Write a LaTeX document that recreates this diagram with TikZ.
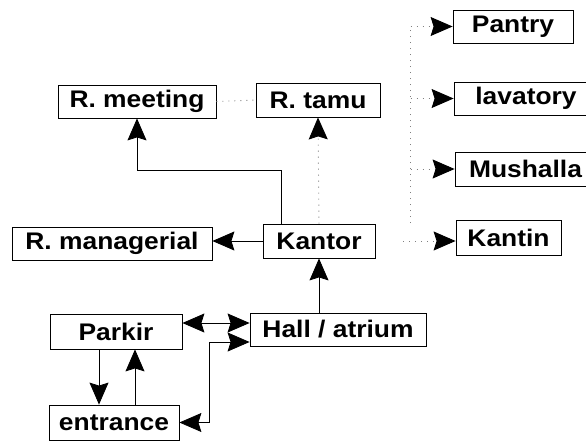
\documentclass[tikz,border=0pt]{standalone}
\usepackage{fontspec}
\setmainfont{Liberation Sans}[FakeStretch=1.1]
\usetikzlibrary{arrows.meta,calc}

\tikzset{
  room/.style={draw, line width=0.8pt, inner sep=0pt, anchor=center,
    font=\fontsize{24}{24}\selectfont\bfseries},
  head/.tip={Stealth[length=22pt,width=19pt,inset=3pt]},
  solidlink/.style={line width=0.8pt, -head},
  solidtwo/.style={line width=0.8pt, head-head},
  faint/.style={line width=0.9pt, gray, dash pattern=on 1pt off 5pt},
  faintarrow/.style={faint, -{Stealth[length=22pt,width=19pt,inset=3pt,black]}},
}

\begin{document}
\begin{tikzpicture}[x=1pt, y=-1pt]
\useasboundingbox (0,0) rectangle (586,442);
\clip (0,0) rectangle (586,442);

% rooms
\node[room, minimum width=158pt, minimum height=33pt] (meet)     at (137,101.5) {R. meeting};
\node[room, minimum width=124pt, minimum height=34pt] (tamu)     at (318,100)   {R. tamu};
\node[room, minimum width=120pt, minimum height=33pt] (pantry)   at (513,26.5)  {Pantry};
\node[room, minimum width=136pt, minimum height=33pt] (lav)      at (522,98.5)  {\hspace*{8pt}lavatory};
\node[room, minimum width=135pt, minimum height=34pt] (mush)     at (522.5,169) {\hspace*{6pt}Mushalla};
\node[room, minimum width=105pt, minimum height=35pt] (kantin)   at (508.5,238) {Kantin};
\node[room, minimum width=112pt, minimum height=34pt] (kantor)   at (319,241)   {Kantor};
\node[room, minimum width=200pt, minimum height=33pt] (manag)    at (112,243.5) {R. managerial};
\node[room, minimum width=132pt, minimum height=35pt] (parkir)   at (116,331.5) {Parkir};
\node[room, minimum width=176pt, minimum height=33pt] (hall)     at (338,329.5) {Hall / atrium};
\node[room, minimum width=130pt, minimum height=35pt] (entrance) at (114,422.5) {entrance};

% solid links
\draw[solidlink] ([xshift=-38pt]kantor.north) -- ++(0,-53) -| (meet.south);
\draw[solidlink] (kantor.west) -- (kantor.west -| manag.east);
\draw[solidlink] (kantor.south |- hall.north) -- (kantor.south);
\coordinate (ph) at ($(parkir.east)+(0,-8.5)$);
\draw[solidtwo] (ph) -- (ph -| hall.west);
\draw[solidtwo]
  (entrance.east) -| ($(hall.west)+(-40,12.5)$) -- ($(hall.west)+(0,12.5)$);
\draw[solidlink] ([xshift=-17pt]parkir.south) -- ([xshift=-17pt]parkir.south |- entrance.north);
\draw[solidlink] ([xshift=19pt]parkir.south |- entrance.north) -- ([xshift=19pt]parkir.south);

% dotted links
\draw[faint] (meet.east) -- (tamu.west);
\draw[faintarrow] (kantor.north) -- (tamu.south);
\draw[faintarrow, shorten <=28pt] (kantor.east) -- (kantor.east -| kantin.west);
\coordinate (trunkbot) at ($(kantin.west)+(-45,-15)$);
\coordinate (trunktop) at (trunkbot |- pantry.west);
\draw[faint] (trunkbot) -- (trunktop);
\draw[faintarrow] (trunktop) -- (pantry.west);
\draw[faintarrow] (trunktop |- lav.west) -- (lav.west);
\draw[faintarrow] (trunktop |- mush.west) -- (mush.west);
\end{tikzpicture}
\end{document}
